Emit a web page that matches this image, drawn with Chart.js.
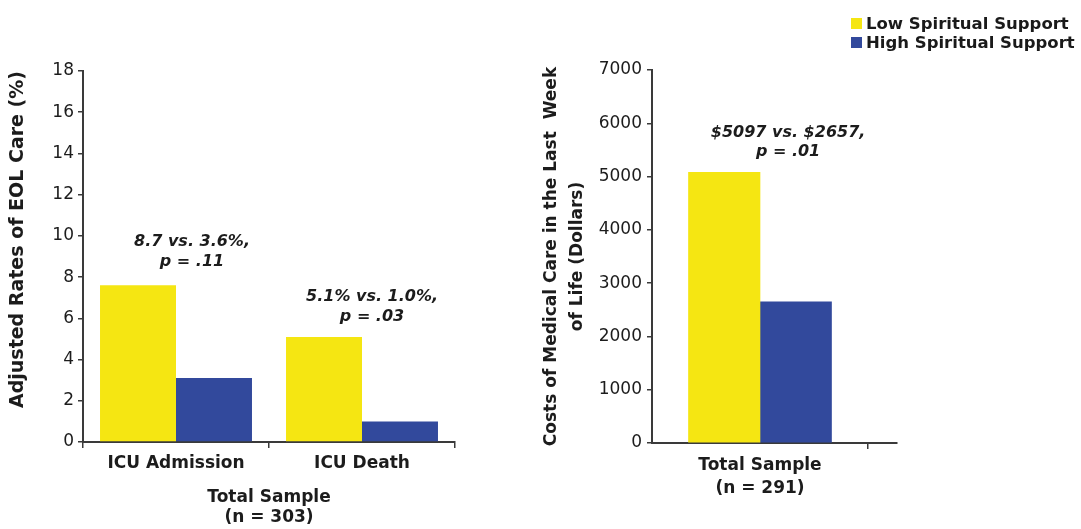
<!DOCTYPE html>
<html>
<head>
<meta charset="utf-8">
<script src="https://cdn.jsdelivr.net/npm/chart.js@4.4.1/dist/chart.umd.min.js"></script>
<style>
  html, body { margin: 0; padding: 0; background: #ffffff; }
  #wrap { position: relative; width: 1081px; height: 529px; overflow: hidden; background: #fff; }
  #left { position: absolute; left: 0; top: 0; }
  #right { position: absolute; left: 500px; top: 0; }
  #legend { position: absolute; left: 851px; top: 14px; font-family: "DejaVu Sans", sans-serif; font-weight: bold; font-size: 16.5px; color: #1a1a1a; line-height: 19px; }
  #legend .item { display: flex; align-items: center; white-space: nowrap; }
  #legend .sw { width: 11px; height: 11px; margin-right: 4px; display: inline-block; }
</style>
</head>
<body>
<div id="wrap">
  <canvas id="left" width="500" height="529"></canvas>
  <canvas id="right" width="581" height="529"></canvas>
  <div id="legend"></div>
</div>
<script>
// ---- data ----
const seriesNames = ['Low Spiritual Support', 'High Spiritual Support'];
const rateCategories = ['ICU Admission', 'ICU Death'];
const rateLow = [7.6, 5.1];
const rateHigh = [3.1, 1.0];
const rateAxisTitle = 'Adjusted Rates of EOL Care (%)';
const rateSampleLabel = ['Total Sample', '(n = 303)'];
const rateNotes = [['8.7 vs. 3.6%,', 'p = .11'], ['5.1% vs. 1.0%,', 'p = .03']];

const costCategory = ['Total Sample', '(n = 291)'];
const costLow = [5080];
const costHigh = [2650];
const costAxisTitle = ['Costs of Medical Care in the Last  Week', 'of Life (Dollars)'];
const costNotes = [['$5097 vs. $2657,', 'p = .01']];

// ---- style ----
const yellow = '#f5e612';
const blue = '#32499c';
const axisColor = '#3a3a3a';
const textColor = '#1c1c1c';
const FONT = '"DejaVu Sans", sans-serif';

// legend (HTML)
const legendEl = document.getElementById('legend');
[yellow, blue].forEach((c, i) => {
  const d = document.createElement('div');
  d.className = 'item';
  d.innerHTML = '<span class="sw" style="background:' + c + '"></span><span>' + seriesNames[i] + '</span>';
  legendEl.appendChild(d);
});

// annotation plugin
const notesPlugin = {
  id: 'notes',
  afterDatasetsDraw(chart, args, opts) {
    const ctx = chart.ctx;
    const xs = chart.scales.x, ys = chart.scales.y;
    ctx.save();
    ctx.font = 'italic bold 16px ' + FONT;
    ctx.fillStyle = textColor;
    ctx.textAlign = 'center';
    ctx.textBaseline = 'middle';
    (opts.items || []).forEach(it => {
      const px = xs.getPixelForValue(it.x);
      const py = ys.getPixelForValue(it.y);
      it.lines.forEach((ln, k) => ctx.fillText(ln, px, py + k * opts.lineGap));
    });
    ctx.restore();
  }
};

// ---- left chart ----
new Chart(document.getElementById('left'), {
  type: 'bar',
  data: {
    labels: rateCategories,
    datasets: [
      { label: seriesNames[0], data: rateLow, backgroundColor: yellow, borderWidth: 0 },
      { label: seriesNames[1], data: rateHigh, backgroundColor: blue, borderWidth: 0 }
    ]
  },
  options: {
    responsive: false,
    animation: false,
    events: [],
    layout: { padding: { left: 0, top: 71, right: 45, bottom: 0 } },
    datasets: { bar: { categoryPercentage: 0.817, barPercentage: 1.0 } },
    plugins: {
      legend: { display: false },
      tooltip: { enabled: false },
      notes: {
        lineGap: 20,
        items: [
          { x: 0.086, y: 9.7, lines: rateNotes[0] },
          { x: 1.054, y: 7.05, lines: rateNotes[1] }
        ]
      }
    },
    scales: {
      x: {
        type: 'category',
        offset: true,
        afterFit: s => { s.height = 87; },
        border: { display: true, color: axisColor, width: 2 },
        grid: { offset: true, drawOnChartArea: false, tickLength: 6, color: axisColor, tickColor: axisColor, lineWidth: 1.5 },
        ticks: { color: textColor, font: { family: FONT, size: 17, weight: 'bold' }, padding: 5, maxRotation: 0 },
        title: { display: true, text: rateSampleLabel, color: textColor, font: { family: FONT, size: 17, weight: 'bold', lineHeight: 20 / 17 }, padding: { top: 0, bottom: 1 } }
      },
      y: {
        min: 0, max: 18,
        afterFit: s => { s.width = 83; },
        border: { display: true, color: axisColor, width: 2 },
        grid: { drawOnChartArea: false, tickLength: 5, color: axisColor, tickColor: axisColor, lineWidth: 1.5 },
        ticks: { stepSize: 2, color: textColor, font: { family: FONT, size: 17 }, padding: 4 },
        title: { display: true, align: 'end', text: rateAxisTitle, color: textColor, font: { family: FONT, size: 19, weight: 'bold', lineHeight: 22 / 19 }, padding: { top: 7, bottom: 0 } }
      }
    }
  },
  plugins: [notesPlugin]
});

// ---- right chart ----
new Chart(document.getElementById('right'), {
  type: 'bar',
  data: {
    datasets: [
      { label: seriesNames[0], data: costLow.map((v, i) => ({ x: i, y: v })), backgroundColor: yellow, borderWidth: 0, barThickness: 71.5 },
      { label: seriesNames[1], data: costHigh.map((v, i) => ({ x: i, y: v })), backgroundColor: blue, borderWidth: 0, barThickness: 71.5 }
    ]
  },
  options: {
    responsive: false,
    animation: false,
    events: [],
    layout: { padding: { left: 0, top: 70, right: 184, bottom: 0 } },
    plugins: {
      legend: { display: false },
      tooltip: { enabled: false },
      notes: {
        lineGap: 19,
        items: [ { x: 0.13, y: 5816, lines: costNotes[0] } ]
      }
    },
    scales: {
      x: {
        type: 'linear',
        min: -0.5,
        max: 0.6343,
        offset: false,
        afterFit: s => { s.height = 86; },
        afterBuildTicks: s => { s.ticks = [{ value: 0 }, { value: 0.5 }]; },
        border: { display: true, color: axisColor, width: 2 },
        grid: {
          offset: false, drawOnChartArea: false, tickLength: 6, lineWidth: 1.5,
          color: axisColor,
          tickColor: c => (c.tick && c.tick.value === 0.5) ? axisColor : 'rgba(0,0,0,0)'
        },
        ticks: {
          color: textColor, font: { family: FONT, size: 17, weight: 'bold', lineHeight: 23 / 17 }, padding: 5, maxRotation: 0, autoSkip: false,
          callback: v => (v === 0 ? costCategory : '')
        }
      },
      y: {
        min: 0, max: 7000,
        afterFit: s => { s.width = 152; },
        border: { display: true, color: axisColor, width: 2 },
        grid: { drawOnChartArea: false, tickLength: 5, color: axisColor, tickColor: axisColor, lineWidth: 1.5 },
        ticks: { stepSize: 1000, color: textColor, font: { family: FONT, size: 17 }, padding: 5, callback: v => String(v) },
        title: { display: true, text: costAxisTitle, color: textColor, font: { family: FONT, size: 17, weight: 'bold', lineHeight: 26 / 17 }, padding: { top: 39, bottom: 0 } }
      }
    }
  },
  plugins: [notesPlugin]
});
</script>
</body>
</html>
